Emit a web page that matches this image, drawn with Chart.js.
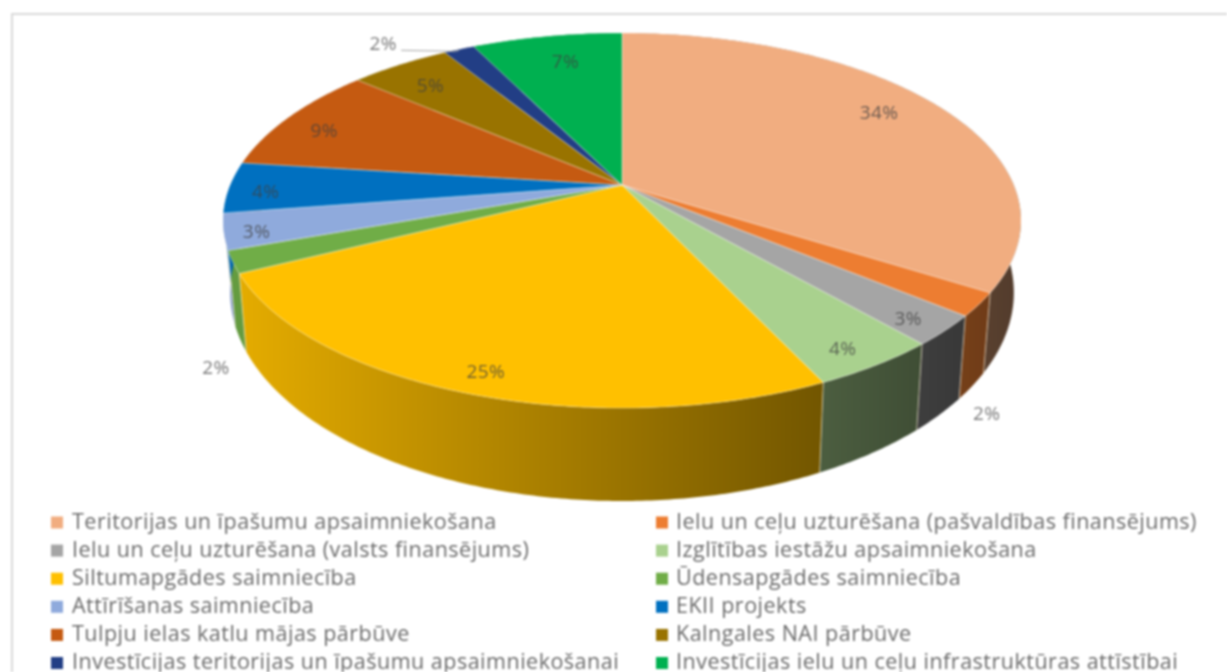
<!DOCTYPE html>
<html lang="lv">
<head>
<meta charset="utf-8">
<title>Pie</title>
<style>
html,body{margin:0;padding:0;background:#fff;overflow:hidden}
#wrap{width:1227px;height:672px}
canvas{display:block;filter:blur(0.8px)}
</style>
<script src="https://cdn.jsdelivr.net/npm/chart.js@4/dist/chart.umd.js"></script>
</head>
<body>
<div id="wrap"><canvas id="c" width="1227" height="672"></canvas></div>
<script>
const categories = [
  "Teritorijas un īpašumu apsaimniekošana",
  "Ielu un ceļu uzturēšana (pašvaldības finansējums)",
  "Ielu un ceļu uzturēšana (valsts finansējums)",
  "Izglītības iestāžu apsaimniekošana",
  "Siltumapgādes saimniecība",
  "Ūdensapgādes saimniecība",
  "Attīrīšanas saimniecība",
  "EKII projekts",
  "Tulpju ielas katlu mājas pārbūve",
  "Kalngales NAI pārbūve",
  "Investīcijas teritorijas un īpašumu apsaimniekošanai",
  "Investīcijas ielu un ceļu infrastruktūras attīstībai"
];
const shares = [34, 2, 2.6, 4.4, 24.6, 1.9, 3.1, 4.4, 9.3, 4.9, 1.5, 7.3];
const sliceColors = ["#F1AD80","#ED7D31","#A5A5A5","#A9D18E","#FFC000","#70AD47","#8FAADC","#0070C0","#C55A11","#997300","#223E85","#00B050"];
const wallBoost = [1.15, 1.5, 1, 1, 1, 1, 1, 1, 1, 1, 1, 1];

// label placement: radial fraction on the pie top, plus pixel shift
const labelRadius = [.827, 1, .91, .91, .91, 1, .921, .905, .869, .82, 1, .806];
const labelShiftX = [-7, 8, -4, -7, 3, -17, 0, -1, -6, -5, -76, 6];
const labelShiftY = [-4, 110, 4, 4, 2, 107, 5, 6, 6, 2, -5, 1];

// perspective of the tilted pie, relative to the library's radius
const PERSP = -0.1893, SCALE_X = 391.8 / 152, SCALE_Y = 180.8 / 152;

function project(arc, angle, r) {
  const R = arc.outerRadius, u = Math.cos(angle), v = Math.sin(angle);
  const den = 1 + PERSP * r * v;
  return { x: arc.x + SCALE_X * R * r * u / den, y: arc.y + SCALE_Y * R * r * v / den };
}
function lower(arc, p) {
  return { x: arc.x + (p.x - arc.x) * 0.982, y: p.y + 68 + 0.112 * (p.y - arc.y) };
}
function rim(arc, a0, a1) {
  const n = Math.max(2, Math.ceil((a1 - a0) / 0.01)), pts = [];
  for (let i = 0; i <= n; i++) pts.push(project(arc, a0 + (a1 - a0) * i / n, 1));
  return pts;
}
function shaded(hex, s) {
  const n = parseInt(hex.slice(1), 16);
  const f = v => Math.min(255, Math.round(v * s));
  return `rgb(${f(n >> 16)},${f((n >> 8) & 255)},${f(n & 255)})`;
}

const pie3d = {
  id: "pie3d",
  beforeDraw(chart) {
    const c = chart.ctx;
    c.save();
    c.fillStyle = "#fff";
    c.fillRect(0, 0, chart.width, chart.height);
    c.strokeStyle = "#d9d9d9";
    c.lineWidth = 2;
    c.beginPath();
    c.moveTo(chart.width + 4, 14); c.lineTo(12, 14); c.lineTo(12, chart.height + 4);
    c.stroke();
    c.restore();
  },
  beforeDatasetDraw(chart, args) {
    const c = chart.ctx, arcs = args.meta.data;
    c.save();
    // side wall
    arcs.forEach((arc, i) => {
      const top = rim(arc, arc.startAngle, arc.endAngle);
      const bot = top.map(p => lower(arc, p)).reverse();
      const xL = arc.x - SCALE_X * arc.outerRadius, xR = arc.x + SCALE_X * arc.outerRadius;
      const g = c.createLinearGradient(xL, 0, xR, 0);
      g.addColorStop(0, shaded(sliceColors[i], 0.90 * wallBoost[i]));
      g.addColorStop(1, shaded(sliceColors[i], 0.30 * wallBoost[i]));
      c.fillStyle = g;
      c.beginPath();
      top.concat(bot).forEach((p, j) => j ? c.lineTo(p.x, p.y) : c.moveTo(p.x, p.y));
      c.closePath();
      c.fill();
    });
    // seams on the side wall
    c.strokeStyle = "rgba(255,240,215,.6)";
    c.lineWidth = 1;
    arcs.forEach(arc => {
      const p = project(arc, arc.startAngle, 1), q = lower(arc, p);
      if (Math.sin(arc.startAngle) > 0.1) {
        c.beginPath(); c.moveTo(p.x, p.y); c.lineTo(q.x, q.y); c.stroke();
      }
    });
    // top face
    arcs.forEach((arc, i) => {
      c.fillStyle = sliceColors[i];
      c.strokeStyle = "rgba(255,255,255,.35)";
      c.lineWidth = 1;
      c.beginPath();
      c.moveTo(arc.x, arc.y);
      rim(arc, arc.startAngle, arc.endAngle).forEach(p => c.lineTo(p.x, p.y));
      c.closePath();
      c.fill();
      c.stroke();
    });
    c.restore();
    return false;
  },
  afterDatasetsDraw(chart) {
    const c = chart.ctx, meta = chart.getDatasetMeta(0);
    const total = shares.reduce((a, b) => a + b, 0);
    c.save();
    c.font = "19px 'Open Sans'";
    c.letterSpacing = "0.4px";
    c.textAlign = "center";
    c.textBaseline = "middle";
    meta.data.forEach((arc, i) => {
      const mid = (arc.startAngle + arc.endAngle) / 2;
      const p = project(arc, mid, labelRadius[i]);
      const x = p.x + labelShiftX[i], y = p.y + labelShiftY[i];
      const outside = labelRadius[i] === 1;
      if (outside && Math.abs(labelShiftX[i]) > 40) {
        c.strokeStyle = "#a6a6a6"; c.lineWidth = 1;
        c.beginPath(); c.moveTo(x + 18, y + 6); c.lineTo(p.x - 4, y + 7); c.lineTo(p.x, p.y + 1); c.stroke();
      }
      c.fillStyle = outside ? "#7a7a7a" : "rgba(64,64,64,.75)";
      c.fillText(Math.round(shares[i] / total * 100) + "%", x, y);
    });
    // legend in two columns
    c.font = "21.5px 'Open Sans'";
    c.letterSpacing = "0.5px";
    c.textAlign = "left";
    categories.forEach((name, i) => {
      const col = i % 2, row = (i - col) / 2;
      const y = 522.5 + row * 28.1;
      c.fillStyle = sliceColors[i];
      c.fillRect(col ? 656 : 51, y - 6, 12, 12);
      c.fillStyle = "#6a6a6a";
      c.fillText(name, col ? 676 : 72, y);
    });
    c.restore();
  }
};

new Chart(document.getElementById("c"), {
  type: "pie",
  data: {
    labels: categories,
    datasets: [{ data: shares, backgroundColor: sliceColors, borderWidth: 0 }]
  },
  plugins: [pie3d],
  options: {
    responsive: false,
    animation: false,
    layout: { padding: { left: 17, right: 0, top: 33, bottom: 335 } },
    plugins: { legend: { display: false }, tooltip: { enabled: false } }
  }
});
</script>
</body>
</html>
